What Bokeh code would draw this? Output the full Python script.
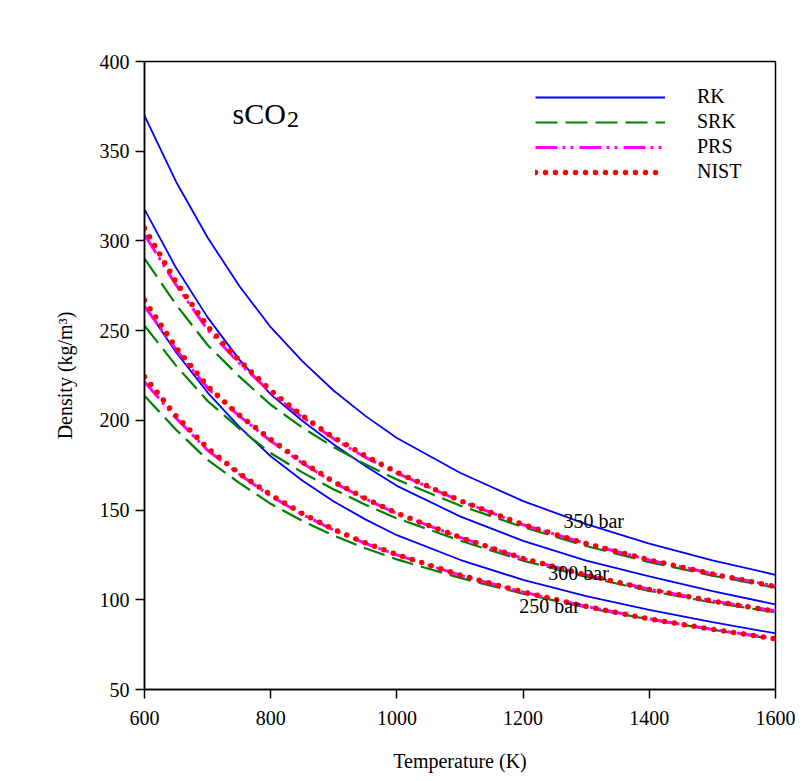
from bokeh.plotting import figure
from bokeh.models import Range1d, FixedTicker, Legend, LegendItem, Label
from bokeh.embed import file_html
from bokeh.resources import INLINE

# ---- data ----
T = [600, 650, 700, 750, 800, 850, 900, 950, 1000, 1100, 1200, 1300, 1400, 1500, 1600]

RK_350 = [369.8, 333.0, 301.9, 275.0, 251.9, 233.0, 216.5, 202.5, 190.2, 170.8, 155.0, 142.2, 131.3, 122.0, 113.9]
RK_300 = [317.6, 285.0, 257.4, 234.0, 214.5, 199.8, 186.5, 174.6, 163.5, 146.5, 132.8, 121.8, 113.0, 104.8, 97.4]
RK_250 = [263.9, 238.0, 215.5, 196.5, 180.0, 166.5, 154.8, 144.8, 136.0, 122.3, 111.1, 102.0, 94.4, 87.5, 81.3]

SRK_350 = [290.2, 264.5, 242.0, 224.5, 208.7, 196.0, 185.0, 175.5, 167.0, 152.5, 140.5, 130.0, 121.0, 113.5, 106.8]
SRK_300 = [252.8, 230.5, 210.8, 195.5, 181.8, 171.0, 161.5, 153.0, 145.4, 133.0, 121.8, 112.8, 105.0, 98.5, 93.0]
SRK_250 = [213.7, 194.8, 178.0, 165.2, 153.5, 144.0, 135.8, 128.7, 122.5, 112.2, 103.4, 95.7, 89.0, 83.3, 78.0]

PRS_350 = [303.5, 275.5, 250.5, 232.0, 215.5, 201.8, 189.7, 179.4, 170.6, 155.1, 141.8, 131.3, 122.2, 114.5, 107.6]
PRS_300 = [263.5, 239.5, 218.0, 202.5, 188.5, 176.2, 165.3, 156.2, 148.0, 134.8, 123.0, 113.8, 105.9, 99.4, 93.8]
PRS_250 = [221.5, 201.3, 183.3, 170.0, 157.8, 147.6, 138.8, 131.4, 125.0, 113.7, 104.3, 96.3, 89.3, 83.5, 78.4]

NIST_350 = [307.1, 277.0, 252.4, 233.5, 216.7, 202.6, 190.4, 180.2, 171.0, 155.3, 141.9, 131.3, 122.2, 114.4, 107.4]
NIST_300 = [266.9, 240.5, 219.0, 203.0, 189.4, 176.8, 165.8, 156.5, 148.2, 134.8, 123.0, 113.8, 105.8, 99.3, 93.6]
NIST_250 = [224.3, 202.5, 184.5, 170.5, 158.5, 148.1, 139.2, 131.7, 125.2, 113.8, 104.3, 96.3, 89.3, 83.5, 78.3]

x_ticks = [600, 800, 1000, 1200, 1400, 1600]
y_ticks = [50, 100, 150, 200, 250, 300, 350, 400]

legend_names = ["RK", "SRK", "PRS", "NIST"]
pressure_labels = ["350 bar", "300 bar", "250 bar"]
pressure_label_pos = [(1264, 144.0), (1240, 114.8), (1194, 96.7)]

FONT = "Liberation Serif"

p = figure(width=795, height=779, output_backend="svg", toolbar_location=None,
           x_range=Range1d(600, 1600), y_range=Range1d(50, 400),
           min_border_left=144, min_border_top=61, min_border_right=20, min_border_bottom=90)
p.background_fill_color = "white"
p.border_fill_color = "white"
p.xgrid.visible = False
p.ygrid.visible = False
p.outline_line_color = "black"
p.outline_line_width = 1.5

for ax in (p.xaxis[0], p.yaxis[0]):
    ax.axis_line_width = 1.5
    ax.axis_line_color = "black"
    ax.major_tick_in = 0
    ax.major_tick_out = 9
    ax.major_tick_line_width = 1.5
    ax.minor_tick_line_color = None
    ax.major_label_text_font = FONT
    ax.major_label_text_font_size = "20px"
    ax.major_label_text_color = "black"
    ax.axis_label_text_font = FONT
    ax.axis_label_text_font_size = "20px"
    ax.axis_label_text_font_style = "normal"
    ax.axis_label_text_color = "black"

p.xaxis[0].ticker = FixedTicker(ticks=x_ticks)
p.yaxis[0].ticker = FixedTicker(ticks=y_ticks)
p.xaxis[0].axis_label = "Temperature (K)"
p.yaxis[0].axis_label = "Density (kg/m³)"
p.xaxis[0].major_label_standoff = 12
p.xaxis[0].axis_label_standoff = 22
p.yaxis[0].major_label_standoff = 6
p.yaxis[0].axis_label_standoff = 21

styles = {
    "RK": dict(line_color="#0000FF", line_width=1.8),
    "SRK": dict(line_color="#008000", line_width=2.2, line_dash="22 8"),
    "PRS": dict(line_color="#FF00FF", line_width=3, line_dash="22 5 3 5 3 6"),
    "NIST": dict(line_color="#FF0000", line_width=5.5, line_dash="0 10", line_cap="round"),
}
series = {
    "RK": [RK_350, RK_300, RK_250],
    "SRK": [SRK_350, SRK_300, SRK_250],
    "PRS": [PRS_350, PRS_300, PRS_250],
    "NIST": [NIST_350, NIST_300, NIST_250],
}

items = []
for name in legend_names:
    rends = []
    for ys in series[name]:
        rends.append(p.line(T, ys, **styles[name]))
    items.append(LegendItem(label=name, renderers=[rends[0]]))

legend = Legend(items=items, location=(391, 506), orientation="vertical",
                glyph_width=130, glyph_height=20, label_height=20, label_standoff=32,
                spacing=2, padding=0, margin=0,
                label_text_font=FONT, label_text_font_size="20px", label_text_color="black",
                border_line_color=None, background_fill_alpha=0)
p.add_layout(legend)

for txt, (lx, ly) in zip(pressure_labels, pressure_label_pos):
    p.add_layout(Label(x=lx, y=ly, text=txt, text_font=FONT, text_font_size="20px",
                       text_baseline="middle", text_align="left", text_color="black"))

p.add_layout(Label(x=739.5, y=371.0, text="sCO", text_font=FONT, text_font_size="30px",
                   text_baseline="middle", text_align="left", text_color="black"))
p.add_layout(Label(x=826, y=367.5, text="2", text_font=FONT, text_font_size="24px",
                   text_baseline="middle", text_align="left", text_color="black"))

open("out.html", "w").write(file_html(p, INLINE))
